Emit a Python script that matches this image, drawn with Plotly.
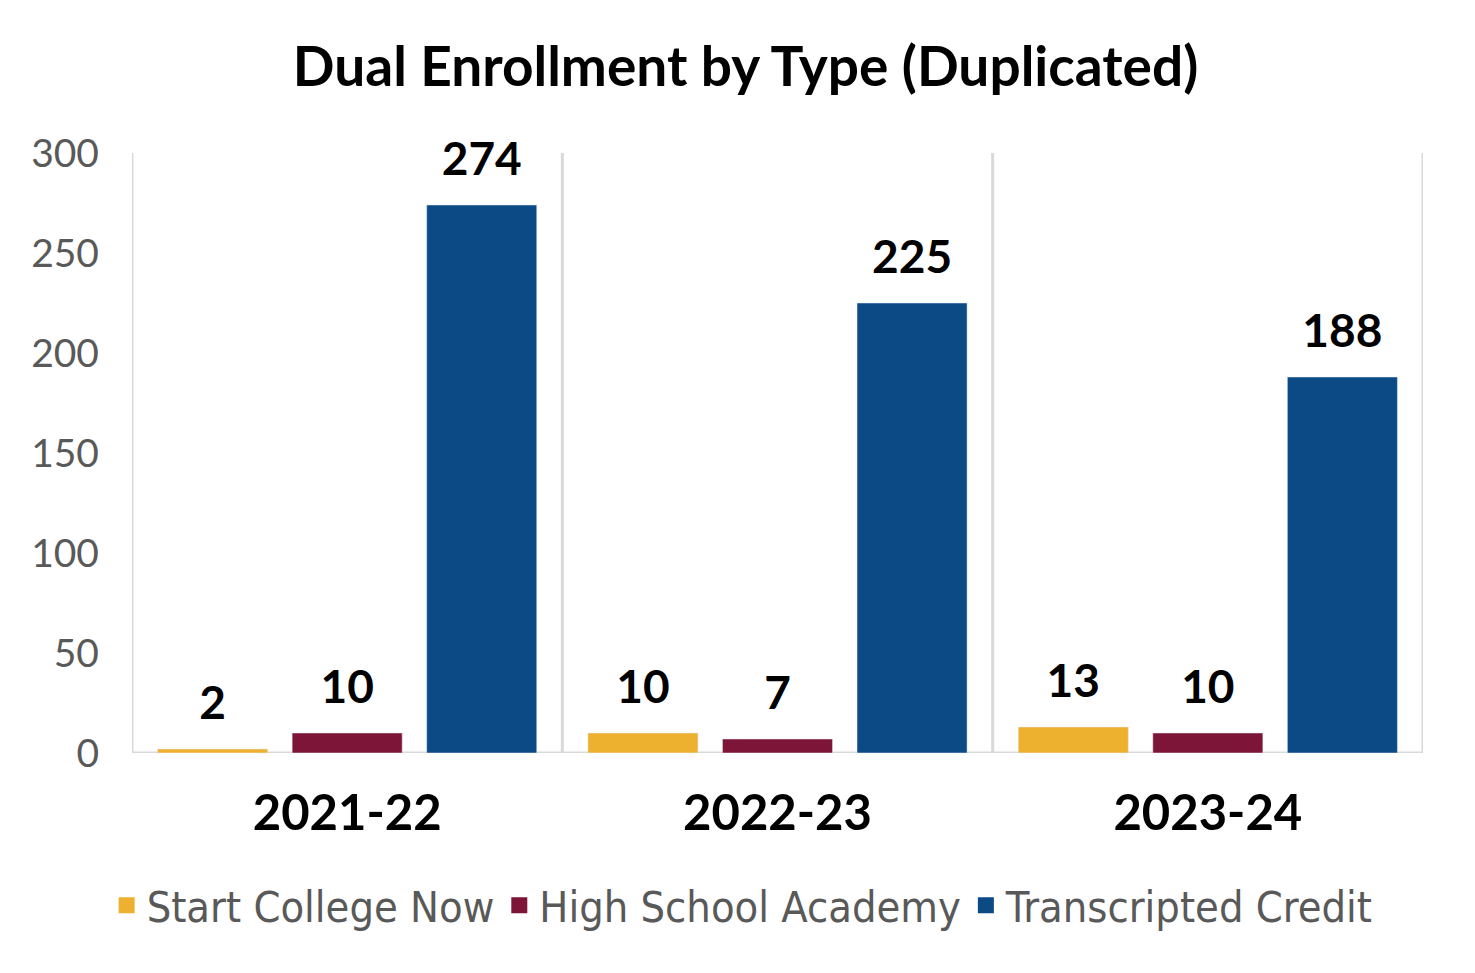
import plotly.graph_objects as go

categories = ["2021-22", "2022-23", "2023-24"]
start_college_now = [2, 10, 13]
high_school_academy = [10, 7, 10]
transcripted_credit = [274, 225, 188]
series_names = ["Start College Now", "High School Academy", "Transcripted Credit"]
colors = ["#EEB02F", "#7D1538", "#0B4A84"]
y_ticks = [0, 50, 100, 150, 200, 250, 300]

fig = go.Figure()
for name, vals, col in zip(series_names, [start_college_now, high_school_academy, transcripted_credit], colors):
    fig.add_trace(go.Bar(
        x=categories, y=vals, name=name, marker_color=col,
        text=[f"<span style='font-size:46px'>{v}</span><br> " for v in vals],
        textposition="outside",
        textfont=dict(family="Lato", size=18, color="black", weight="bold"),
        cliponaxis=False, showlegend=False,
    ))
# legend entries with square swatches
for name, col in zip(series_names, colors):
    fig.add_trace(go.Scatter(
        x=[None], y=[None], mode="markers", name=name,
        marker=dict(symbol="square", size=22, color=col), showlegend=True,
    ))

shapes = []
for xv in [-0.5, 0.5, 1.5, 2.5]:
    shapes.append(dict(type="line", xref="x", yref="y", x0=xv, x1=xv, y0=0, y1=300,
                       line=dict(color="#D9D9D9", width=3), layer="below"))
shapes.append(dict(type="line", xref="x", yref="y", x0=-0.5, x1=2.5, y0=0, y1=0,
                   line=dict(color="#D9D9D9", width=3), layer="below"))

fig.update_layout(
    width=1475, height=973,
    margin=dict(l=124, r=60, t=145, b=228),
    paper_bgcolor="white", plot_bgcolor="white",
    title=dict(text="<b>Dual Enrollment by Type (Duplicated)</b>", x=0.5, xanchor="center",
               y=1 - 59 / 973, yanchor="middle",
               font=dict(family="Lato", size=55, color="black")),
    barmode="group", bargap=0.062, bargroupgap=0.182,
    shapes=shapes,
    xaxis=dict(range=[-0.5, 2.5], showgrid=False, showline=False, ticks="", automargin=False,
               ticklabelstandoff=27,
               tickfont=dict(family="Lato", size=49, color="black", weight="bold")),
    yaxis=dict(range=[0, 300], tickvals=y_ticks, showgrid=False, showline=False, zeroline=False,
               ticks="", ticklabelstandoff=32, automargin=False,
               tickfont=dict(family="Lato", size=39, color="#595959")),
    legend=dict(orientation="h", x=0.473, xanchor="center", y=-0.254, yanchor="middle",
                font=dict(family="Liberation Sans Narrow, DejaVu Sans Condensed", size=43, color="#595959"),
                itemwidth=30, traceorder="normal", tracegroupgap=0),
)

fig.write_html("out.html")
